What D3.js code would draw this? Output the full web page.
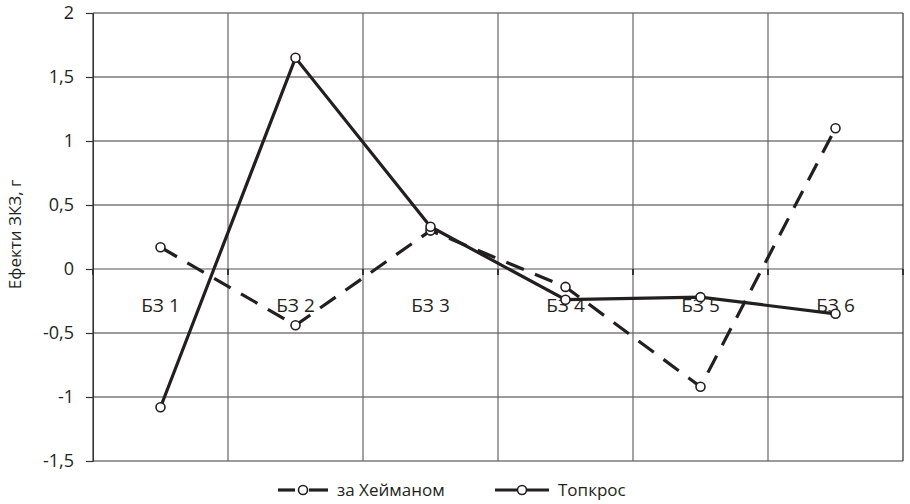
<!DOCTYPE html>
<html>
<head>
<meta charset="utf-8">
<script src="https://cdn.jsdelivr.net/npm/d3@7"></script>
<style>
    body { margin: 0; background: #fff; }
    text { font-family: "Open Sans", sans-serif; fill: #231f20; }
</style>
</head>
<body>
<div id="chart"></div>
<script>
// Data
let categories = ["БЗ 1", "БЗ 2", "БЗ 3", "БЗ 4", "БЗ 5", "БЗ 6"];
let heymanValues = [0.17, -0.44, 0.30, -0.14, -0.92, 1.10];
let topcrossValues = [-1.08, 1.65, 0.33, -0.24, -0.22, -0.35];
let yTicks = [2, 1.5, 1, 0.5, 0, -0.5, -1, -1.5];
let seriesNames = ["за Хейманом", "Топкрос"];

let margin = {top: 13, right: 7, bottom: 43, left: 93};
let width = 910 - margin.left - margin.right;
let height = 504 - margin.top - margin.bottom;

let svg = d3.select("#chart").append("svg")
    .attr("width", 910)
    .attr("height", 504)
    .append("g")
    .attr("transform", "translate(" + margin.left + "," + margin.top + ")");

// Scales
let xScale = d3.scaleBand()
    .domain(categories)
    .range([0, width]);

let yScale = d3.scaleLinear()
    .domain([-1.5, 2])
    .range([height, 0]);

// Horizontal gridlines
svg.selectAll(".hgrid")
    .data(yTicks)
    .enter().append("line")
    .attr("x1", 0)
    .attr("x2", width)
    .attr("y1", d => yScale(d))
    .attr("y2", d => yScale(d))
    .attr("stroke", d => d === 0 ? "#555" : "#3a3a3a")
    .attr("stroke-width", 1.2);

// Vertical gridlines
let bounds = categories.map(c => xScale(c)).concat([width]);
svg.selectAll(".vgrid")
    .data(bounds)
    .enter().append("line")
    .attr("x1", d => d)
    .attr("x2", d => d)
    .attr("y1", 0)
    .attr("y2", height)
    .attr("stroke", (d, i) => (i === 0 || i === bounds.length - 1) ? "#333" : "#666")
    .attr("stroke-width", 1.2);

// Y axis
let yAxis = d3.axisLeft(yScale)
    .tickValues(yTicks)
    .tickSize(7)
    .tickFormat(d => String(d).replace(".", ","));

let yAxisGroup = svg.append("g")
    .call(yAxis);
yAxisGroup.select(".domain").attr("stroke", "#333");
yAxisGroup.selectAll("line").attr("stroke", "#333").attr("stroke-width", 1.2);
yAxisGroup.selectAll("text")
    .attr("font-size", 18)
    .attr("font-family", "Open Sans, sans-serif")
    .attr("fill", "#231f20")
    .attr("x", -19);

// Category axis at y=0
let xAxis = d3.axisBottom(xScale).tickSize(0).tickPadding(0);
let xAxisGroup = svg.append("g")
    .attr("transform", "translate(0," + yScale(0) + ")")
    .call(xAxis);
xAxisGroup.select(".domain").remove();
xAxisGroup.selectAll("text")
    .attr("font-size", 19)
    .attr("font-family", "Open Sans, sans-serif")
    .attr("fill", "#231f20")
    .attr("y", 37)
    .attr("dy", "0.32em");

svg.selectAll(".xtick")
    .data(bounds)
    .enter().append("line")
    .attr("x1", d => d)
    .attr("x2", d => d)
    .attr("y1", yScale(0))
    .attr("y2", yScale(0) + 6)
    .attr("stroke", "#333")
    .attr("stroke-width", 2);

// Y axis title
svg.append("text")
    .attr("transform", "translate(" + (-72) + "," + yScale(0.27) + ") rotate(-90)")
    .attr("text-anchor", "middle")
    .attr("font-size", 17)
    .text("Ефекти ЗКЗ, г");

// Lines
let line = d3.line()
    .x((d, i) => xScale(categories[i]) + xScale.bandwidth() / 2)
    .y(d => yScale(d));

svg.append("path")
    .datum(heymanValues)
    .attr("fill", "none")
    .attr("stroke", "#231f20")
    .attr("stroke-width", 3.2)
    .attr("stroke-dasharray", "19,12")
    .attr("d", line);

svg.append("path")
    .datum(topcrossValues)
    .attr("fill", "none")
    .attr("stroke", "#231f20")
    .attr("stroke-width", 3.2)
    .attr("d", line);

// Markers
[heymanValues, topcrossValues].forEach(function(vals) {
    svg.selectAll(null)
        .data(vals)
        .enter().append("circle")
        .attr("cx", (d, i) => xScale(categories[i]) + xScale.bandwidth() / 2)
        .attr("cy", d => yScale(d))
        .attr("r", 4.5)
        .attr("fill", "#fff")
        .attr("stroke", "#231f20")
        .attr("stroke-width", 1.6);
});

// Legend
let legendY = 490 - margin.top;
let legendItems = [
    {x1: 278 - margin.left, x2: 328 - margin.left, name: seriesNames[0], dashed: true},
    {x1: 495 - margin.left, x2: 549 - margin.left, name: seriesNames[1], dashed: false}
];
legendItems.forEach(function(item) {
    let cx = (item.x1 + item.x2) / 2;
    let segs = item.dashed ? [[item.x1, cx - 8], [cx + 6, item.x2]] : [[item.x1, item.x2]];
    segs.forEach(function(s) {
        svg.append("line")
            .attr("x1", s[0])
            .attr("x2", s[1])
            .attr("y1", legendY)
            .attr("y2", legendY)
            .attr("stroke", "#231f20")
            .attr("stroke-width", 3.2);
    });
    svg.append("circle")
        .attr("cx", cx)
        .attr("cy", legendY)
        .attr("r", 4.5)
        .attr("fill", "#fff")
        .attr("stroke", "#231f20")
        .attr("stroke-width", 1.6);
    svg.append("text")
        .attr("x", item.x2 + 9)
        .attr("y", legendY)
        .attr("dy", "0.35em")
        .attr("font-size", 17)
        .text(item.name);
});
</script>
</body>
</html>
